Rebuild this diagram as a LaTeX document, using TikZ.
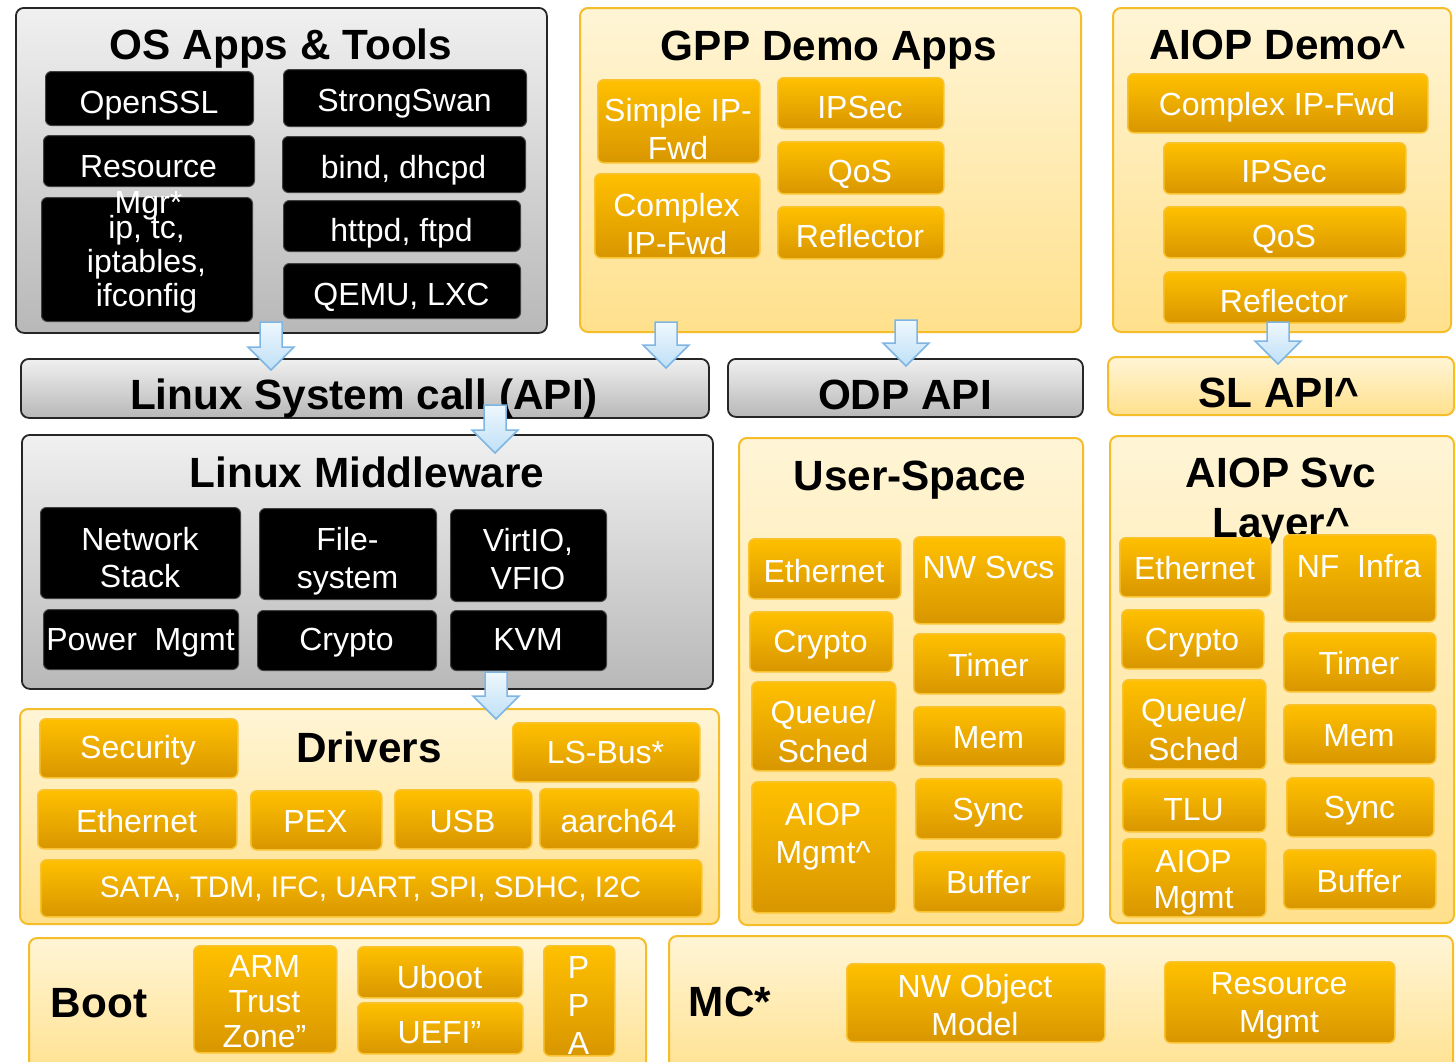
\documentclass[tikz,border=0pt]{standalone}
\usepackage{fontspec}
\setmainfont{Liberation Sans}
\usetikzlibrary{calc}

\definecolor{grayTop}{HTML}{F0F0F0}
\definecolor{grayBot}{HTML}{B8B8B8}
\definecolor{yelTop}{HTML}{FFF5D6}
\definecolor{yelBot}{HTML}{FFE08C}
\definecolor{yelLine}{HTML}{F6BD2A}
\definecolor{orTop}{HTML}{FFC000}
\definecolor{orBot}{HTML}{D89600}
\definecolor{orLine}{HTML}{F9C230}
\definecolor{arTop}{HTML}{EEF7FD}
\definecolor{arBot}{HTML}{BFE0F7}
\definecolor{arLine}{HTML}{7FB5E3}

\newcommand\bodyf{\fontsize{32}{38}\selectfont}
\newcommand\titlef{\bfseries\fontsize{42.3}{50}\selectfont}
% centred multi-line text whose reference point is the first baseline
\newcommand\ml[1]{\vtop{\lineskiplimit=-100pt\halign{\hfil##\hfil\cr#1\crcr}}}

\tikzset{
  graybox/.style={rounded corners=8pt, draw=black!85, line width=1.8pt,
    top color=grayTop, bottom color=grayBot, inner sep=0pt},
  yelbox/.style={rounded corners=8pt, draw=yelLine, line width=2pt,
    top color=yelTop, bottom color=yelBot, inner sep=0pt},
  obox/.style={rounded corners=6pt, draw=orLine, line width=1.5pt,
    top color=orTop, bottom color=orBot, inner sep=0pt},
  bbox/.style={rounded corners=6pt, fill=black, draw=black!75, line width=1pt,
    inner sep=0pt},
  wtext/.style={text=white, font=\bodyf, inner sep=0pt, anchor=base},
  ttext/.style={text=black, font=\titlef, inner sep=0pt, anchor=base},
  blockarrow/.style={draw=arLine, line width=1.5pt, top color=arTop,
    bottom color=arBot, line join=miter},
}

% container: style, name, x1, y1, x2, y2
\newcommand\cont[6]{%
  \node[#1, anchor=north west, minimum width={(#5)-(#3)},
        minimum height={(#6)-(#4)}] (#2) at (#3,#4) {};}
% box with label: [text opts], style, name, x1, y1, x2, y2, baseline, text
\newcommand\bx[9][]{%
  \node[#2, anchor=north west, minimum width={(#6)-(#4)},
        minimum height={(#7)-(#5)}] (#3) at (#4,#5) {};
  \node[wtext,#1] (#3-t) at ({((#4)+(#6))/2},#8) {#9};}
% wide block arrow between two named coordinates
\newcommand\barrow[2]{%
  \path[blockarrow] let \p1=(#1), \p2=(#2) in
    (\x1-11pt,\y1) -- (\x1+11pt,\y1) -- (\x1+11pt,\y2+23pt)
    -- (\x1+23pt,\y2+23pt) -- (\x2,\y2) -- (\x1-23pt,\y2+23pt)
    -- (\x1-11pt,\y2+23pt) -- cycle;}

\begin{document}
\begin{tikzpicture}[x=1pt,y=-1pt]
\useasboundingbox (0,0) rectangle (1455,1061);
\fill[white] (0,0) rectangle (1455,1061);
\clip (0,0) rectangle (1455,1061);

% ---------- containers ----------
\cont{graybox}{osapps}{15}{7}{546}{332}
\cont{yelbox}{gpp}{579}{7}{1080}{331}
\cont{yelbox}{aiopdemo}{1112}{7}{1450}{331}
\cont{graybox}{syscall}{20}{358}{708}{417}
\cont{graybox}{odp}{727}{358}{1082}{416}
\cont{yelbox}{slapi}{1107}{356}{1453}{414}
\cont{graybox}{middleware}{21}{434}{712}{688}
\cont{yelbox}{drivers}{19}{708}{718}{923}
\cont{yelbox}{userspace}{738}{437}{1082}{924}
\cont{yelbox}{aiopsvc}{1109}{435}{1453}{922}
\cont{yelbox}{boot}{28}{937}{645}{1080}
\cont{yelbox}{mc}{668}{935}{1452}{1080}

% ---------- titles ----------
\node[ttext] (osapps-t) at (281,59) {OS Apps \& Tools};
\node[ttext] (gpp-t) at (829,60) {GPP Demo Apps};
\node[ttext] (aiopdemo-t) at (1278,59) {AIOP Demo\textasciicircum};
\node[ttext] (syscall-t) at (364,409) {Linux System call (API)};
\node[ttext] (odp-t) at (905,409) {ODP API};
\node[ttext] (slapi-t) at (1279,407) {SL API\textasciicircum};
\node[ttext] (middleware-t) at (367,487) {Linux Middleware};
\node[ttext] (drivers-t) at (369,762) {Drivers};
\node[ttext] (userspace-t) at (910,490) {User-Space};
\node[ttext] (aiopsvc-t) at (1281,487) {\ml{AIOP Svc\cr Layer\textasciicircum}};
\node[ttext] (boot-t) at (99,1017) {Boot};
\node[ttext] (mc-t) at (730,1016) {MC*};

% ---------- OS apps & tools ----------
\bx{bbox}{openssl}{45}{71}{253}{125}{113}{OpenSSL}
\bx{bbox}{strongswan}{283}{69}{526}{126}{111}{StrongSwan}
\bx[font=\fontsize{32}{34}\selectfont]{bbox}{iptc}{41}{197}{252}{321}{238}{\ml{ip, tc,\cr iptables,\cr ifconfig}}
\bx[font=\fontsize{32}{36}\selectfont]{bbox}{resource}{43}{135}{254}{186}{177}{\ml{Resource\cr Mgr*}}
\bx{bbox}{bind}{282}{136}{525}{192}{178}{bind, dhcpd}
\bx{bbox}{httpd}{283}{200}{520}{251}{241}{httpd, ftpd}
\bx{bbox}{qemu}{283}{263}{520}{318}{305}{QEMU, LXC}

% ---------- GPP demo apps ----------
\bx{obox}{simplefwd}{597}{79}{759}{162}{121}{\ml{Simple IP-\cr Fwd}}
\bx{obox}{complexg}{594}{173}{759}{257}{216}{\ml{Complex\cr IP-Fwd}}
\bx{obox}{ipsecg}{777}{77}{943}{128}{118}{IPSec}
\bx{obox}{qosg}{777}{141}{943}{193}{182}{QoS}
\bx{obox}{reflg}{777}{206}{943}{258}{247}{Reflector}

% ---------- AIOP demo ----------
\bx{obox}{complexa}{1127}{73}{1427}{132}{115}{Complex IP-Fwd}
\bx{obox}{ipseca}{1163}{142}{1405}{193}{182}{IPSec}
\bx{obox}{qosa}{1163}{206}{1405}{257}{247}{QoS}
\bx{obox}{refla}{1163}{271}{1405}{322}{312}{Reflector}

% ---------- Linux middleware ----------
\bx[font=\fontsize{32}{37}\selectfont]{bbox}{netstack}{40}{507}{240}{598}{550}{\ml{Network\cr Stack}}
\bx[font=\fontsize{32}{38}\selectfont]{bbox}{filesys}{259}{508}{436}{599}{550}{\ml{File-\cr system}}
\bx[font=\fontsize{32}{38}\selectfont]{bbox}{virtio}{450}{509}{606}{601}{551}{\ml{VirtIO,\cr VFIO}}
\bx{bbox}{power}{43}{609}{238}{669}{650}{Power~~Mgmt}
\bx{bbox}{cryptom}{257}{610}{436}{670}{650}{Crypto}
\bx{bbox}{kvm}{450}{610}{606}{670}{650}{KVM}

% ---------- drivers ----------
\bx{obox}{security}{39}{718}{237}{777}{758}{Security}
\bx{obox}{lsbus}{512}{722}{699}{781}{763}{LS-Bus*}
\bx{obox}{etherd}{37}{789}{236}{848}{832}{Ethernet}
\bx{obox}{pex}{250}{790}{381}{849}{832}{PEX}
\bx{obox}{usb}{394}{789}{531}{848}{832}{USB}
\bx{obox}{aarch}{539}{788}{698}{848}{832}{aarch64}
\bx[font=\fontsize{29.8}{34}\selectfont]{obox}{sata}{40}{859}{701}{916}{897}{SATA, TDM, IFC, UART, SPI, SDHC, I2C}

% ---------- user-space ----------
\bx{obox}{ethu}{748}{538}{900}{598}{582}{Ethernet}
\bx{obox}{nwsvcs}{913}{536}{1064}{623}{578}{NW Svcs}
\bx{obox}{cryptou}{749}{611}{892}{671}{652}{Crypto}
\bx{obox}{timeru}{913}{633}{1064}{693}{676}{Timer}
\bx[font=\fontsize{32}{39}\selectfont]{obox}{queueu}{751}{681}{895}{770}{723}{\ml{Queue/\cr Sched}}
\bx{obox}{memu}{913}{706}{1064}{765}{748}{Mem}
\bx{obox}{aiopmu}{751}{781}{895}{912}{825}{\ml{AIOP\cr Mgmt\textasciicircum}}
\bx{obox}{syncu}{915}{778}{1061}{838}{820}{Sync}
\bx{obox}{bufu}{913}{851}{1064}{911}{893}{Buffer}

% ---------- AIOP service layer ----------
\bx{obox}{etha}{1119}{537}{1270}{596}{579}{Ethernet}
\bx{obox}{nfinfra}{1283}{534}{1435}{621}{577}{NF~~Infra}
\bx{obox}{cryptoa}{1121}{609}{1263}{668}{650}{Crypto}
\bx{obox}{timera}{1283}{632}{1435}{691}{674}{Timer}
\bx[font=\fontsize{32}{39}\selectfont]{obox}{queuea}{1122}{679}{1265}{768}{721}{\ml{Queue/\cr Sched}}
\bx{obox}{mema}{1283}{704}{1435}{763}{746}{Mem}
\bx{obox}{tlu}{1122}{778}{1265}{831}{820}{TLU}
\bx{obox}{synca}{1286}{777}{1433}{836}{818}{Sync}
\bx[font=\fontsize{32}{36}\selectfont]{obox}{aiopma}{1122}{838}{1265}{916}{872}{\ml{AIOP\cr Mgmt}}
\bx{obox}{bufa}{1283}{849}{1435}{908}{892}{Buffer}

% ---------- boot ----------
\bx[font=\fontsize{32}{35}\selectfont]{obox}{armtz}{193}{945}{336}{1052}{977}{\ml{ARM\cr Trust\cr Zone”}}
\bx{obox}{uboot}{357}{946}{522}{997}{988}{Uboot}
\bx{obox}{uefi}{357}{1002}{522}{1053}{1043}{UEFI”}
\bx{obox}{ppa}{543}{945}{614}{1055}{978}{\ml{P\cr P\cr A}}

% ---------- MC ----------
\bx{obox}{nwobj}{846}{963}{1104}{1041}{997}{\ml{NW Object\cr Model}}
\bx{obox}{resmgmt}{1164}{961}{1394}{1042}{994}{\ml{Resource\cr Mgmt}}

% ---------- flow arrows between layers ----------
\coordinate (a1s) at (271,322);  \coordinate (a1e) at (271,370);
\coordinate (a2s) at (666,322);  \coordinate (a2e) at (666,368);
\coordinate (a3s) at (906,320);  \coordinate (a3e) at (906,366);
\coordinate (a4s) at (1278,322); \coordinate (a4e) at (1278,364);
\coordinate (a5s) at (495,405);  \coordinate (a5e) at (495,453);
\coordinate (a6s) at (496,672);  \coordinate (a6e) at (496,719);
\barrow{a1s}{a1e}
\barrow{a2s}{a2e}
\barrow{a3s}{a3e}
\barrow{a4s}{a4e}
\barrow{a5s}{a5e}
\barrow{a6s}{a6e}
\end{tikzpicture}
\end{document}
